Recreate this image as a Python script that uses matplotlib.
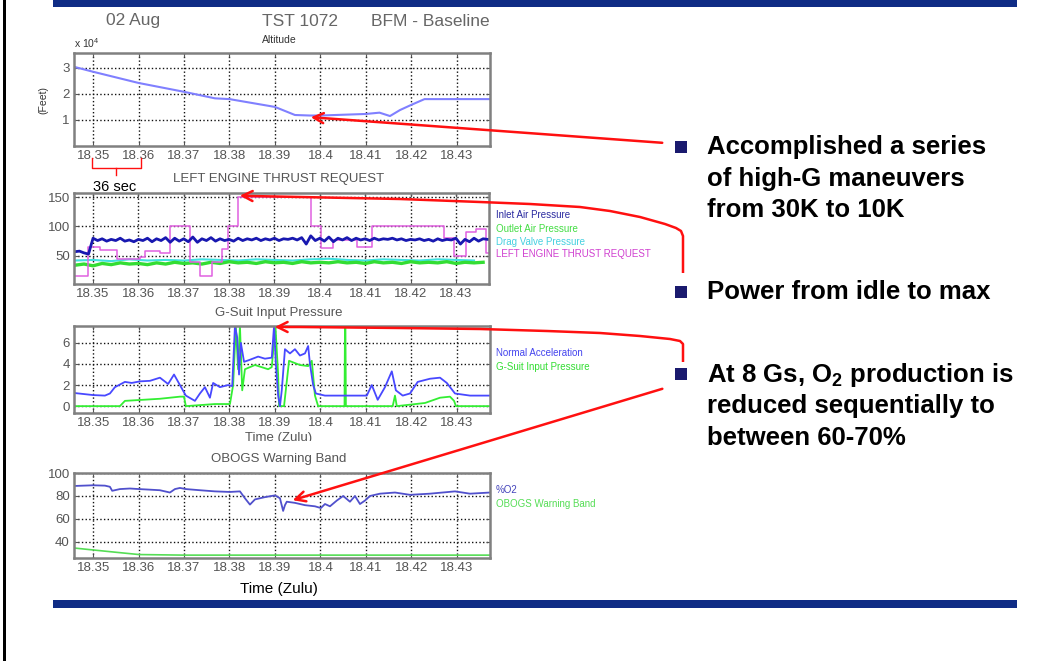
import numpy as np
import matplotlib
matplotlib.use("Agg")
import matplotlib.pyplot as plt
from matplotlib.patches import Rectangle

plt.rcParams["font.family"] = ["Liberation Sans", "DejaVu Sans"]
plt.rcParams["mathtext.fontset"] = "custom"
plt.rcParams["mathtext.rm"] = "Liberation Sans"
plt.rcParams["mathtext.bf"] = "Liberation Sans:bold"

W, H = 1051, 661

# shared time axis (Zulu)
x_ticks = [18.35, 18.36, 18.37, 18.38, 18.39, 18.40, 18.41, 18.42, 18.43]
x_labels = ["18.35", "18.36", "18.37", "18.38", "18.39", "18.4", "18.41", "18.42", "18.43"]

# altitude (x 10^4 ft)
alt_t = [18.3458, 18.35, 18.36, 18.37, 18.3768, 18.38, 18.39, 18.3944, 18.3977,
         18.40, 18.41, 18.413, 18.4153, 18.4175, 18.42, 18.4229, 18.4373]
alt_v = [3.04, 2.85, 2.42, 2.08, 1.83, 1.80, 1.50, 1.19, 1.17,
         1.17, 1.23, 1.28, 1.15, 1.38, 1.58, 1.80, 1.80]

# engine panel: sampled channels
inlet_t = np.round(np.arange(18.346, 18.4375, 0.001), 3)
inlet_v = [57, 58, 55, 53, 80, 76, 79, 75, 78, 76,
           80, 75, 77, 74, 78, 76, 80, 74, 79, 76,
           81, 73, 80, 75, 79, 74, 82, 73, 79, 76,
           81, 75, 79, 76, 78, 75, 80, 76, 79, 77,
           80, 76, 79, 77, 80, 76, 79, 78, 80, 77,
           81, 70, 84, 76, 80, 75, 82, 74, 80, 77,
           81, 76, 80, 77, 79, 76, 80, 77, 79, 78,
           80, 77, 79, 76, 78, 77, 79, 76, 78, 75,
           79, 76, 78, 77, 80, 70, 78, 74, 80, 75,
           79, 78]
outlet_t = np.round(np.arange(18.346, 18.4365, 0.002), 3)
outlet_v = [34, 36, 33, 37, 35, 38, 36, 37, 35, 38,
            36, 39, 37, 38, 36, 39, 37, 40, 38, 39,
            37, 40, 38, 39, 37, 40, 38, 39, 38, 40,
            38, 39, 37, 40, 38, 39, 37, 40, 38, 39,
            38, 40, 37, 39, 38, 39]
drag_t = np.round(np.arange(18.346, 18.4345, 0.004), 3)
drag_v = [42, 43, 41, 44, 42, 43, 42, 44, 43, 42, 44, 43,
          42, 44, 45, 43, 42, 44, 43, 42, 44, 43, 42]
thrust_t = [18.3458, 18.3489, 18.3515, 18.3553, 18.3603, 18.3614, 18.3647, 18.3669,
            18.3713, 18.3735, 18.3762, 18.3784, 18.3797, 18.3819, 18.3981, 18.4003,
            18.4028, 18.4082, 18.4115, 18.4274, 18.4296, 18.4322, 18.4344, 18.4366, 18.4373]
thrust_v = [15, 65, 60, 45, 48, 58, 55, 100, 40, 15, 40, 62, 100, 150, 100, 63,
            77, 65, 100, 80, 50, 90, 95, 55, 55]

# G-suit panel
nz_t = [18.3458, 18.35, 18.3526, 18.3537, 18.3548, 18.3570, 18.3585, 18.3603, 18.3625,
        18.3647, 18.3665, 18.3678, 18.3691, 18.3704, 18.3724, 18.3735, 18.3746, 18.3757,
        18.3764, 18.3779, 18.3797, 18.3806, 18.3812, 18.3817, 18.3821, 18.3825, 18.3832,
        18.3845, 18.3863, 18.3878, 18.3893, 18.3898, 18.3902, 18.3907, 18.3911, 18.3915,
        18.3922, 18.3933, 18.3944, 18.3955, 18.3966, 18.3973, 18.3977, 18.3984, 18.3990,
        18.4010, 18.4043, 18.4102, 18.4113, 18.4126, 18.4142, 18.4157, 18.4166, 18.4181,
        18.4197, 18.4214, 18.4241, 18.4263, 18.4278, 18.4296, 18.4329, 18.4373]
nz_v = [1.25, 1.05, 1.0, 1.2, 1.8, 2.3, 2.2, 2.35, 2.4,
        2.7, 2.1, 3.0, 2.0, 1.0, 0.5, 1.2, 1.8, 0.8,
        2.2, 1.8, 2.0, 1.9, 7.6, 6.5, 3.0, 6.0, 4.2,
        4.4, 4.7, 4.5, 4.6, 7.6, 4.0, 1.0, 0.0, 1.5,
        5.4, 5.0, 5.4, 4.8, 5.0, 5.7, 4.0, 2.0, 1.2,
        1.0, 1.0, 1.0, 2.0, 0.6, 1.8, 3.3, 1.5, 1.0,
        1.2, 2.3, 2.6, 2.7, 2.2, 1.2, 1.0, 1.0]
gsuit_t = [18.3458, 18.3559, 18.3570, 18.3647, 18.3691, 18.3700, 18.3704, 18.3768,
           18.3801, 18.3808, 18.3814, 18.3819, 18.3823, 18.3828, 18.3834, 18.3856,
           18.3885, 18.3893, 18.3901, 18.3907, 18.3909, 18.3920, 18.3931, 18.3955,
           18.3973, 18.3981, 18.3988, 18.3995, 18.4053, 18.4054, 18.4055, 18.4056,
           18.4159, 18.4164, 18.4168, 18.4230, 18.4263, 18.4285, 18.4294, 18.4298, 18.4373]
gsuit_v = [0, 0, 0.5, 0.7, 0.9, 0.9, 0, 0.2,
           0.2, 2.0, 7.6, 3.5, 7.6, 1.5, 3.5, 3.9,
           3.5, 3.7, 7.6, 3.0, 0, 0, 4.3, 3.9,
           3.8, 4.3, 1.0, 0, 0, 7.6, 7.6, 0,
           0, 1.0, 0, 0.3, 0.8, 0.9, 0.5, 0, 0]

# OBOGS panel
o2_t = [18.3458, 18.35, 18.3526, 18.3537, 18.3542, 18.3559, 18.3581, 18.3601, 18.3625,
        18.3647, 18.3669, 18.3680, 18.3691, 18.3704, 18.3735, 18.3768, 18.3801, 18.3823,
        18.3834, 18.3845, 18.3856, 18.3878, 18.3900, 18.3911, 18.3918, 18.3922, 18.3926,
        18.3944, 18.3966, 18.3988, 18.4001, 18.4010, 18.4021, 18.4036, 18.4050, 18.4065,
        18.4076, 18.4087, 18.4098, 18.4109, 18.4131, 18.4164, 18.4197, 18.4241, 18.4296,
        18.4329, 18.4373]
o2_v = [88.7, 89.3, 89, 88, 84.5, 86, 86.5, 86, 85.5,
        85, 83, 86, 87, 86, 85, 84, 83.5, 84,
        78, 72.5, 77, 79, 80.5, 78, 67, 72, 75,
        74, 72, 71, 69.5, 73, 71, 76, 80, 75,
        80, 73, 76, 80, 82, 83, 81, 82, 84,
        82, 83]
warn_t = [18.3458, 18.35, 18.355, 18.3601, 18.37, 18.4373]
warn_v = [34.7, 33, 31, 29, 28.5, 28.5]

fig = plt.figure(figsize=(W / 100, H / 100), dpi=100)


def px_axes(l, t, r, b):
    return fig.add_axes([l / W, 1 - b / H, (r - l) / W, (b - t) / H])


def style(ax, ylim, yticks):
    ax.set_xlim(18.3458, 18.4373)
    ax.set_ylim(*ylim)
    ax.set_xticks(x_ticks)
    ax.set_xticklabels(x_labels)
    ax.set_yticks(yticks)
    ax.grid(True, ls=":", color="#111111", lw=1.0)
    for s in ax.spines.values():
        s.set_color("#808080")
        s.set_linewidth(1.8)
    ax.tick_params(direction="in", length=3, labelsize=9.5, labelcolor="#555555",
                   color="#555555", top=True, right=True, pad=3)


ax1 = px_axes(74, 53, 490, 146)
ax1.plot(alt_t, alt_v, color="#8080ff", lw=1.5)
style(ax1, (0, 3.57), [1, 2, 3])

ax2 = px_axes(74, 193, 489, 284)
ax2.plot(drag_t, drag_v, color="#40e0e0", lw=1.5)
ax2.plot(outlet_t, outlet_v, color="#33dd33", lw=2.4)
ax2.plot(thrust_t, thrust_v, color="#e060e0", lw=1.1, drawstyle="steps-post")
ax2.plot(inlet_t, inlet_v, color="#1818b0", lw=2.0)
style(ax2, (2, 157), [50, 100, 150])

ax3 = px_axes(74, 326, 490, 413)
ax3.plot(gsuit_t, gsuit_v, color="#33ee33", lw=1.3)
ax3.plot(nz_t, nz_v, color="#4848ff", lw=1.3)
style(ax3, (-0.65, 7.6), [0, 2, 4, 6])

ax4 = px_axes(74, 473, 490, 558)
ax4.plot(warn_t, warn_v, color="#55dd55", lw=1.2)
ax4.plot(o2_t, o2_v, color="#5050cc", lw=1.3)
style(ax4, (26, 100), [40, 60, 80, 100])

# overlay in pixel coordinates for slide decorations
ov = fig.add_axes([0, 0, 1, 1], zorder=10)
ov.set_xlim(0, W)
ov.set_ylim(H, 0)
ov.axis("off")
ov.patch.set_alpha(0)

navy = "#0f2c85"
ov.add_patch(Rectangle((53, 0), 964, 7, color=navy, lw=0))
ov.add_patch(Rectangle((53, 600), 964, 8, color=navy, lw=0))
ov.add_patch(Rectangle((3, 0), 3, H, color="black", lw=0))

gray = "#666666"
ov.text(133, 21, "02 Aug", fontsize=12.5, color=gray, ha="center", va="center")
ov.text(300, 21, "TST 1072", fontsize=12.5, color=gray, ha="center", va="center")
ov.text(430, 22, "BFM - Baseline", fontsize=12.5, color=gray, ha="center", va="center")
ov.text(279, 40, "Altitude", fontsize=7.5, color="#333333", ha="center", va="center")
ov.text(87, 43, "x 10$^4$", fontsize=7.5, color="#333333", ha="center", va="center")
ov.text(43, 100, "(Feet)", fontsize=7.5, color="#333333", ha="center", va="center", rotation=90)
ov.text(279, 179, "LEFT ENGINE THRUST REQUEST", fontsize=9.5, color="#555555", ha="center", va="center")
ov.text(279, 313, "G-Suit Input Pressure", fontsize=9.5, color="#555555", ha="center", va="center")
ov.text(279, 438, "Time (Zulu)", fontsize=9.5, color="#555555", ha="center", va="center", zorder=3)
ov.add_patch(Rectangle((220, 441), 120, 9, color="white", lw=0, zorder=4))
ov.text(279, 459, "OBOGS Warning Band", fontsize=9.5, color="#555555", ha="center", va="center")
ov.text(279, 589, "Time (Zulu)", fontsize=11, color="black", ha="center", va="center")

leg_fs = 7
ov.text(496, 215, "Inlet Air Pressure", fontsize=leg_fs, color="#2a2aa0", va="center")
ov.text(496, 229, "Outlet Air Pressure", fontsize=leg_fs, color="#44dd44", va="center")
ov.text(496, 242, "Drag Valve Pressure", fontsize=leg_fs, color="#44d0e0", va="center")
ov.text(496, 254, "LEFT ENGINE THRUST REQUEST", fontsize=leg_fs, color="#d040d0", va="center")
ov.text(496, 353, "Normal Acceleration", fontsize=leg_fs, color="#4444ee", va="center")
ov.text(496, 367, "G-Suit Input Pressure", fontsize=leg_fs, color="#33dd33", va="center")
ov.text(496, 490, "%O2", fontsize=leg_fs, color="#4444bb", va="center")
ov.text(496, 504, "OBOGS Warning Band", fontsize=leg_fs, color="#55dd55", va="center")

# 36 sec bracket
red = "#ff1010"
ov.plot([92, 92, 141, 141], [158, 168, 168, 158], color=red, lw=1)
ov.plot([116, 116], [168, 175], color=red, lw=1)
ov.text(115, 187, "36 sec", fontsize=10.5, color="black", ha="center", va="center")

# bullets
bullet_y = [147, 292, 374]
for by in bullet_y:
    ov.add_patch(Rectangle((675, by - 6), 12, 12, color="#1a1a6e", lw=0))
bfs = 18.5
lines = [(154, "Accomplished a series"), (186, "of high-G maneuvers"),
         (217, "from 30K to 10K"), (299, "Power from idle to max"),
         (382, "At 8 Gs, $\\mathbf{O_2}$ production is"),
         (413, "reduced sequentially to"), (445, "between 60-70%")]
for y, s in lines:
    ov.text(707, y, s, fontsize=bfs, fontweight="bold", color="black",
            ha="left", va="baseline")

# red callouts
aprops = dict(arrowstyle="->", color=red, lw=1.8, mutation_scale=18)
ov.annotate("", xy=(308, 117), xytext=(665, 143), arrowprops=aprops)
c2x = [683, 683, 681, 676, 665, 640, 610, 580, 530, 480, 400, 300, 250]
c2y = [273, 236, 231, 228, 224, 217, 211, 207, 204, 202, 199, 197, 196]
ov.plot(c2x, c2y, color=red, lw=1.8, solid_capstyle="butt")
ov.annotate("", xy=(237, 195.6), xytext=(252, 196), arrowprops=aprops)
c3x = [683, 683, 680, 670, 640, 600, 547, 480, 400, 300, 285]
c3y = [362, 344, 341, 339, 336, 333, 331, 329, 328, 327, 327]
ov.plot(c3x, c3y, color=red, lw=1.8, solid_capstyle="butt")
ov.annotate("", xy=(272, 327), xytext=(287, 327), arrowprops=aprops)
ov.annotate("", xy=(290, 501), xytext=(665, 388), arrowprops=aprops)

fig.savefig("out.png", dpi=100)
